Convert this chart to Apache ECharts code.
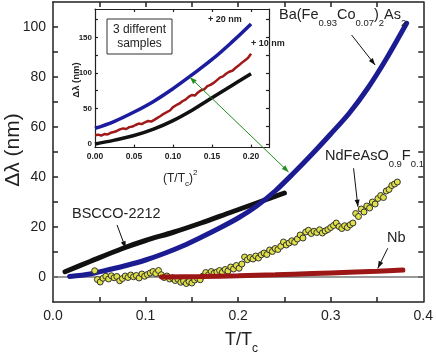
<!DOCTYPE html>
<html><head><meta charset="utf-8">
<script src="https://cdn.jsdelivr.net/npm/echarts@6/dist/echarts.min.js"></script>
<style>html,body{margin:0;padding:0;background:#fff}#c{width:436px;height:355px}</style>
</head><body><div id="c"></div>
<script>
// ---------- DATA ----------
// Main panel: x = T/Tc, y = Δλ (nm)
const baX = [0.018,0.04,0.06,0.08,0.10,0.12,0.14,0.16,0.18,0.20,0.22,0.24,0.26,0.28,0.30,0.32,0.34,0.36,0.382];
const baY = [0.2,1.2,2.9,4.7,6.8,9.4,12.4,15.9,19.6,23.6,28.4,34.4,41.6,49.2,57.2,65.5,75.5,87.2,101.5];

const bsccoX = [0.013,0.04,0.075,0.10,0.13,0.16,0.19,0.22,0.25];
const bsccoY = [2.1,6.2,11.4,14.6,17.9,21.6,25.6,29.6,33.6];

const nbX = [0.117,0.16,0.20,0.24,0.28,0.32,0.35,0.378];
const nbY = [0.0,0.2,0.5,0.9,1.4,1.9,2.3,2.8];

const ndX = [0.045,0.048,0.051,0.054,0.057,0.060,0.063,0.066,0.069,0.072,0.075,0.078,0.081,0.084,0.087,0.090,0.093,0.096,0.099,0.102,0.105,0.108,0.111,0.114,0.117,0.120,0.123,0.126,0.129,0.132,0.135,0.138,0.141,0.144,0.147,0.150,0.153,0.156,0.159,0.162,0.165,0.168,0.171,0.174,0.177,0.180,0.183,0.186,0.189,0.192,0.195,0.198,0.201,0.204,0.207,0.210,0.213,0.216,0.219,0.222,0.225,0.228,0.231,0.234,0.237,0.240,0.243,0.246,0.249,0.252,0.255,0.258,0.261,0.264,0.267,0.270,0.273,0.276,0.279,0.282,0.285,0.288,0.291,0.294,0.297,0.300,0.303,0.306,0.309,0.312,0.315,0.318,0.321,0.324,0.327,0.330,0.333,0.336,0.339,0.342,0.345,0.348,0.351,0.354,0.357,0.360,0.363,0.366,0.369,0.372];
const ndY = [2.5,-1.0,-2.0,-0.5,0.3,-0.8,0.5,-0.3,0.2,-1.5,-0.6,0.4,-0.2,0.8,0.1,0.6,-0.4,1.2,0.3,1.0,1.6,2.2,1.4,2.6,0.9,-0.2,0.4,-0.8,-0.3,-1.4,-0.9,-2.1,-1.6,-2.6,-1.8,-2.4,-1.2,-0.5,-1.1,0.4,1.8,0.9,2.2,1.5,2.0,2.6,1.9,3.0,2.4,4.0,3.2,4.6,3.5,5.2,8.0,6.9,7.8,7.2,8.4,7.6,8.9,9.6,9.0,10.8,10.2,11.4,11.0,12.3,14.0,12.8,13.6,14.5,13.9,15.2,16.8,15.6,18.0,18.7,17.4,18.3,17.8,18.9,17.6,18.4,19.0,19.8,20.6,21.6,20.2,19.4,20.5,19.8,20.9,21.6,25.4,24.2,27.2,26.0,28.4,27.6,30.0,29.2,31.4,32.6,31.8,34.4,35.0,36.6,37.2,38.0];

const zeroX = [0, 0.4];
const zeroY = [0, 0];

// Inset: x = (T/Tc)^2, y = Δλ (nm)
const insetX = [0,0.025,0.05,0.075,0.1,0.125,0.15,0.175,0.2];
const insetBlack = [0,5.5,12,21,33,48,65,82,99];
const insetBlue = [22,32,45,60,78,98,119,143,169];
const insetRedX = [0,0.004,0.008,0.012,0.016,0.020,0.024,0.028,0.032,0.036,0.040,0.044,0.048,0.052,0.056,0.060,0.064,0.068,0.072,0.076,0.080,0.084,0.088,0.092,0.096,0.100,0.104,0.108,0.112,0.116,0.120,0.124,0.128,0.132,0.136,0.140,0.144,0.148,0.152,0.156,0.160,0.164,0.168,0.172,0.176,0.180,0.184,0.188,0.192,0.196,0.200];
const insetRedY = [12.5,13.2,12.0,14.0,13.4,15.8,16.9,18.4,20.6,22.0,21.2,23.8,24.6,26.8,28.9,28.0,30.6,32.4,31.6,34.0,36.8,39.4,42.6,44.8,47.2,52.0,54.6,56.8,60.2,62.5,66.4,69.0,68.2,72.6,75.8,77.0,81.4,83.2,86.0,89.6,93.4,95.2,99.0,101.8,103.2,107.0,110.4,114.2,117.6,121.0,127.0];

// Tick labels / tick positions
const mainXLabels = [0, 0.1, 0.2, 0.3, 0.4];
const mainXTicks = [0.05,0.1,0.15,0.2,0.25,0.3,0.35];
const mainYLabels = [0,20,40,60,80,100];
const mainYTicks = [0,10,20,30,40,50,60,70,80,90,100];
const insetXLabels = [0,0.05,0.1,0.15,0.2];
const insetXTicks = [0.05,0.1,0.15,0.2];
const insetYLabels = [0,50,100,150];
const insetYTicks = [0,25,50,75,100,125,150,175];

// ---------- CHART ----------
const FF = '"Liberation Sans", Arial, sans-serif';
const zip = (a,b) => a.map((v,i)=>[v,b[i]]);
const AX = '#222';

function ax(grid, pos, min, max, labels, ticks, fmt, fs, bold, len, lw, showLabel, margin) {
  return {type:'value', gridIndex:grid, position:pos, min, max,
    axisLine:{show:true, onZero:false, lineStyle:{color:AX, width:lw}},
    axisTick:{show:true, inside:true, length:len, customValues:ticks, lineStyle:{color:AX, width:lw}},
    axisLabel:{show:showLabel, customValues:labels, formatter:fmt, fontSize:fs, fontWeight:bold?'bold':'normal', fontFamily:FF, color:AX, margin:margin},
    splitLine:{show:false}};
}

const option = {
  animation:false,
  backgroundColor:'#fff',
  grid:[
    {left:53, right:11, top:2, bottom:53},
    {left:95, right:167, top:9, bottom:207.4}
  ],
  xAxis:[
    ax(0,'bottom',0,0.4,mainXLabels,mainXTicks,v=>v.toFixed(1),14,false,5,1.5,true,7),
    ax(0,'top',0,0.4,mainXLabels,mainXTicks,v=>v.toFixed(1),14,false,5,1.5,false,7),
    ax(1,'bottom',0,0.223,insetXLabels,insetXTicks,v=>v.toFixed(2),8.5,true,3,1.2,true,5),
    ax(1,'top',0,0.223,insetXLabels,insetXTicks,v=>v.toFixed(2),8.5,true,3,1.2,false,5)
  ],
  yAxis:[
    ax(0,'left',-10,110,mainYLabels,mainYTicks,v=>String(v),14,false,5,1.5,true,7),
    ax(0,'right',-10,110,mainYLabels,mainYTicks,v=>String(v),14,false,5,1.5,false,7),
    ax(1,'left',-5,190,insetYLabels,insetYTicks,v=>String(v),8,true,3,1.2,true,3),
    ax(1,'right',-5,190,insetYLabels,insetYTicks,v=>String(v),8,true,3,1.2,false,3)
  ],
  series:[
    {type:'line', xAxisIndex:0, yAxisIndex:0, data:zip(zeroX,zeroY), symbol:'none', lineStyle:{color:'#777', width:1.5}, z:1, silent:true},
    {type:'line', xAxisIndex:0, yAxisIndex:0, data:zip(bsccoX,bsccoY), symbol:'none', smooth:0.3, lineStyle:{color:'#111', width:5, cap:'round'}, z:2},
    {type:'line', xAxisIndex:0, yAxisIndex:0, data:zip(baX,baY), symbol:'none', smooth:0.3, lineStyle:{color:'#1c1c92', width:5, cap:'round'}, z:3},
    {type:'scatter', xAxisIndex:0, yAxisIndex:0, data:zip(ndX,ndY), symbol:'circle', symbolSize:6, itemStyle:{color:'#e0e048', borderColor:'#333', borderWidth:1, opacity:1}, z:4},
    {type:'line', xAxisIndex:0, yAxisIndex:0, data:zip(nbX,nbY), symbol:'none', smooth:0.3, lineStyle:{color:'#9c1616', width:5, cap:'round'}, z:5},
    {type:'line', xAxisIndex:2, yAxisIndex:2, data:zip(insetX,insetBlack), symbol:'none', smooth:0.4, lineStyle:{color:'#111', width:3.5}, z:6},
    {type:'line', xAxisIndex:2, yAxisIndex:2, data:zip(insetRedX,insetRedY), symbol:'none', lineStyle:{color:'#a01818', width:2.5}, z:6},
    {type:'line', xAxisIndex:2, yAxisIndex:2, data:zip(insetX,insetBlue), symbol:'none', smooth:0.4, lineStyle:{color:'#1c1c9e', width:3.5}, z:6}
  ]
};

const chart = echarts.init(document.getElementById('c'));
chart.setOption(option);

// ---------- ANNOTATIONS ----------
const mctx = document.createElement('canvas').getContext('2d');
function textWidth(t, fs, fw) {
  mctx.font = fw + ' ' + fs + 'px ' + FF;
  return mctx.measureText(t).width;
}
function rich(x, y, parts, bold, color) {
  // parts: [text, fontSize, dy]
  let cx = x; const els = [];
  for (const [t, fs, dy] of parts) {
    const fw = bold ? 'bold' : 'normal';
    const w = textWidth(t, fs, fw);
    els.push({type:'text', x:cx, y:y+dy, z:100, silent:true,
      style:{text:t, fontSize:fs, fontFamily:FF, fontWeight:fw, fill:color||'#222', align:'left', verticalAlign:'middle'}});
    cx += w;
  }
  return els;
}
function arrow(p0, p1, color, lw, both, hl, hw) {
  const els = [];
  const head = (a, b) => {
    const dx=b[0]-a[0], dy=b[1]-a[1], L=Math.hypot(dx,dy), ux=dx/L, uy=dy/L;
    const bx=b[0]-ux*hl, by=b[1]-uy*hl;
    return {type:'polygon', z:101, silent:true, shape:{points:[[b[0],b[1]],[bx-uy*hw,by+ux*hw],[bx+uy*hw,by-ux*hw]]}, style:{fill:color}};
  };
  els.push({type:'line', z:100, silent:true, shape:{x1:p0[0],y1:p0[1],x2:p1[0],y2:p1[1]}, style:{stroke:color, lineWidth:lw}});
  els.push(head(p0,p1));
  if (both) els.push(head(p1,p0));
  return els;
}
const PM = (x,y) => chart.convertToPixel({xAxisIndex:0, yAxisIndex:0}, [x,y]);
const PI = (x,y) => chart.convertToPixel({xAxisIndex:2, yAxisIndex:2}, [x,y]);

const M = 14.5, S = 9.5, SD = 8.5;
let g = [];
// Main axis titles
g.push({type:'text', x:13, y:150, rotation:Math.PI/2, z:100, silent:true,
  style:{text:'Δλ (nm)', fontSize:21, fontFamily:FF, fill:'#222', align:'center', verticalAlign:'middle'}});
g = g.concat(rich(225, 340, [['T/T',18,0],['c',12,9]]));
// Inset axis titles
g.push({type:'text', x:76, y:80, rotation:Math.PI/2, z:100, silent:true,
  style:{text:'Δλ (nm)', fontSize:9.5, fontWeight:'bold', fontFamily:FF, fill:'#222', align:'center', verticalAlign:'middle'}});
g = g.concat(rich(163, 179, [['(T/T',12,0],['c',8,4.5],[')',12,0],['2',8,-6]], false));
// Series labels
g = g.concat(rich(279, 15, [['Ba(Fe',M,0],['0.93',S,SD],['Co',M,0],['0.07',S,SD],[')',M,0],['2',S,SD],['As',M,0],['2',S,SD]]));
g = g.concat(rich(325, 156, [['NdFeAsO',M,0],['0.9',S,SD],['F',M,0],['0.1',S,SD]]));
g = g.concat(rich(72, 214, [['BSCCO-2212',M,0]]));
g = g.concat(rich(387, 238, [['Nb',M,0]]));
g = g.concat(rich(208, 20, [['+ 20 nm',9,0]], true));
g = g.concat(rich(251, 44, [['+ 10 nm',9,0]], true));
// "3 different samples" box
g.push({type:'rect', z:99, silent:true, shape:{x:107, y:19, width:65, height:35}, style:{fill:'#fff', stroke:'#333', lineWidth:1}});
g.push({type:'text', x:139.5, y:30, z:100, silent:true, style:{text:'3 different', fontSize:12, fontFamily:FF, fill:'#222', align:'center', verticalAlign:'middle'}});
g.push({type:'text', x:139.5, y:44, z:100, silent:true, style:{text:'samples', fontSize:12, fontFamily:FF, fill:'#222', align:'center', verticalAlign:'middle'}});
// Arrows
g = g.concat(arrow(PM(0.3226,96.8), PM(0.348,84.8), '#111', 1, false, 7, 2.5));
g = g.concat(arrow(PM(0.3247,43.5), PM(0.3294,28.1), '#111', 1, false, 7, 2.5));
g = g.concat(arrow(PM(0.0692,20.8), PM(0.0785,11.5), '#111', 1, false, 7, 2.5));
g = g.concat(arrow(PM(0.3616,11.5), PM(0.3509,3.5), '#111', 1, false, 7, 2.5));
g = g.concat(arrow(PI(0.1216,94), PM(0.2545,42), '#1f8f1f', 1, true, 7, 2.5));

chart.setOption({graphic:{elements:g}});
</script>
</body></html>
